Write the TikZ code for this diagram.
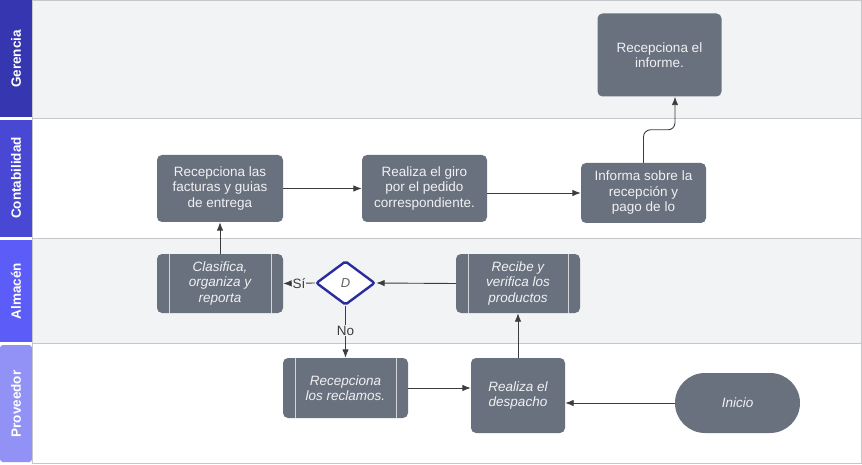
\documentclass[tikz,border=0pt]{standalone}
\usepackage{fontspec}
\setmainfont{Liberation Sans}
\usetikzlibrary{shapes.geometric,arrows.meta,calc}
\definecolor{boxgray}{RGB}{106,113,126}
\definecolor{lanegray}{RGB}{242,243,245}
\definecolor{sepgray}{RGB}{198,199,203}
\definecolor{hdA}{RGB}{54,54,176}
\definecolor{hdB}{RGB}{72,72,212}
\definecolor{hdC}{RGB}{92,92,248}
\definecolor{hdD}{RGB}{146,146,246}
\definecolor{decblue}{RGB}{40,44,156}
\definecolor{linegray}{RGB}{60,60,60}
\definecolor{txtw}{RGB}{240,241,243}
\begin{document}
\begin{tikzpicture}[x=1pt,y=-1pt,
 proc/.style={draw=none, fill=boxgray, rounded corners=5pt, text=txtw, font=\fontsize{13.5}{15.5}\selectfont, align=center, inner sep=0pt},
 sub/.style={proc, font=\fontsize{13.5}{15.5}\selectfont\itshape},
 subproc/.style={sub, path picture={\draw[line width=1pt, draw=white!70!boxgray]
   ([xshift=12pt]path picture bounding box.north west) -- ([xshift=12pt]path picture bounding box.south west)
   ([xshift=-12pt]path picture bounding box.north east) -- ([xshift=-12pt]path picture bounding box.south east);}},
 arr/.style={draw=linegray, line width=0.9pt, -{Latex[length=8.5pt,width=6.5pt]}},
 lanelbl/.style={text=white, font=\fontsize{13.5}{15}\selectfont\bfseries, rotate=90, inner sep=0pt},
 lbl/.style={font=\fontsize{13.5}{15}\selectfont, text=linegray, inner sep=1pt}
]
\useasboundingbox (0,0) rectangle (862,465);
% backgrounds
\fill[white] (0,0) rectangle (862,465);
\fill[lanegray] (33,0) rectangle (861,118);
\fill[white] (33,118) rectangle (861,238);
\fill[lanegray] (33,238) rectangle (861,343);
\fill[white] (33,343) rectangle (861,463);
% headers
\fill[hdA] (0,0) rectangle (32,117);
\fill[hdB] (0,120) rectangle (32,237);
\fill[hdC] (0,240) rectangle (32,342);
\fill[hdD, rounded corners=3pt] (0,345) rectangle (32,462);
\node[lanelbl] (lg) at (16,59) {Gerencia};
\node[lanelbl] (lc) at (16,178) {Contabilidad};
\node[lanelbl] (la) at (16,291) {Almacén};
\node[lanelbl] (lp) at (16,404) {Proveedor};
% separators
\draw[sepgray, line width=1.8pt] (33,118.5) -- (861,118.5);
\draw[sepgray, line width=1.8pt] (33,238.5) -- (861,238.5);
\draw[sepgray, line width=1.8pt] (33,343.5) -- (861,343.5);
\draw[sepgray, line width=1pt] (32,0.5) -- (861.5,0.5) -- (861.5,463) -- (32,463);
\draw[sepgray, line width=1pt] (32.5,0) -- (32.5,463);
% nodes
\node[proc, minimum width=124pt, minimum height=83pt] (inf) at (659.5,55) {Recepciona el\\informe.};
\node[proc, minimum width=125pt, minimum height=60pt] (infsob) at (643.5,193) {Informa sobre la\\recepción y\\pago de lo};
\node[proc, minimum width=126pt, minimum height=67pt] (fac) at (220,188.5) {Recepciona las\\facturas y guias\\de entrega};
\node[proc, minimum width=125pt, minimum height=67pt] (giro) at (424.5,188.5) {Realiza el giro\\por el pedido\\correspondiente.};
\node[subproc, minimum width=126pt, minimum height=59pt] (clas) at (220,283.5) {Clasifica,\\organiza y\\reporta};
\node[diamond, draw=decblue, line width=2.4pt, fill=white, rounded corners=2pt, minimum width=59pt, minimum height=44pt, inner sep=0pt, text=linegray!80, font=\fontsize{13}{15}\selectfont\itshape] (dec) at (345.5,283) {D};
\node[subproc, minimum width=124pt, minimum height=59pt] (rec) at (518,283.5) {Recibe y\\verifica los\\productos};
\node[subproc, minimum width=125pt, minimum height=60pt] (recl) at (345.5,388) {Recepciona\\los reclamos.};
\node[sub, minimum width=94pt, minimum height=75pt] (desp) at (518,395.5) {Realiza el\\despacho};
\node[sub, rounded corners=30pt, minimum width=125pt, minimum height=60pt] (ini) at (737.5,403) {Inicio};
% connectors
\draw[arr] (fac.east) -- (giro.west);
\draw[arr] (giro.east |- infsob) -- (infsob.west);
\draw[arr, rounded corners=7pt] (infsob.north) -- ++(0,-33) -| ([xshift=15.5pt]inf.south);
\draw[arr] (clas.north) -- (fac.south);
\draw[arr] (rec.west) -- (dec.east);
\draw[arr] (dec.west) -- node[lbl, fill=lanegray] (si) {Sí} (clas.east);
\draw[arr] (dec.south) -- node[lbl, fill=lanegray, pos=0.47] (no) {No} (recl.north);
\draw[arr] (recl.east) -- (recl.east -| desp.west);
\draw[arr] (desp.north) -- (rec.south);
\draw[arr] (ini.west) -- (ini.west -| desp.east);
\end{tikzpicture}
\end{document}
